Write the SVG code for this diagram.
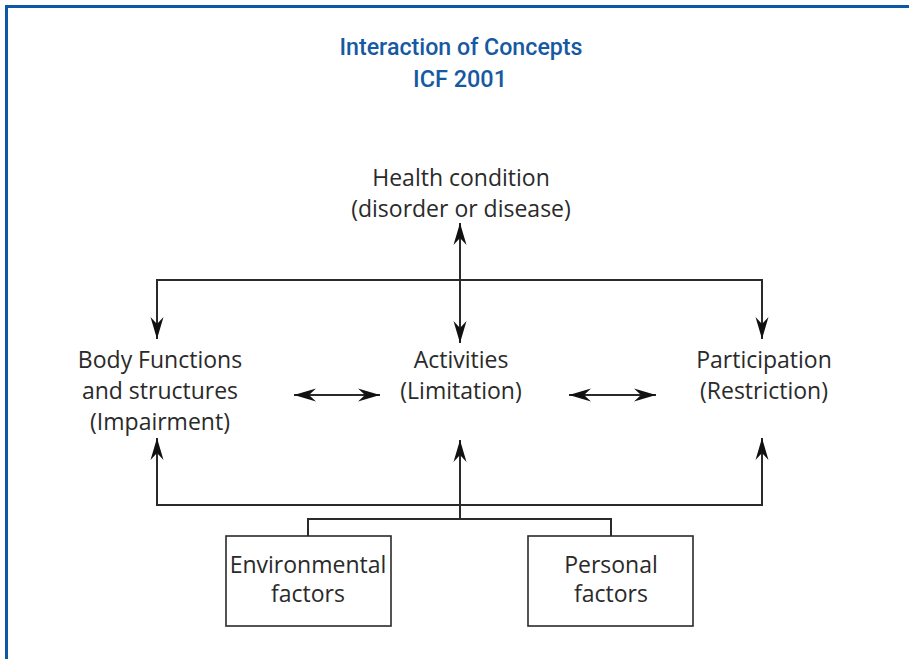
<svg xmlns="http://www.w3.org/2000/svg" width="909" height="659" viewBox="0 0 909 659">
<style>
.t{font-family:"Open Sans","Liberation Sans",sans-serif;font-size:23px;fill:#2a2a2a;text-anchor:middle}
.ttl{font-family:Roboto,"Liberation Sans",sans-serif;font-weight:500;font-size:24px;fill:#1659a3;text-anchor:middle}
.ln{fill:none;stroke:#2a2a2a;stroke-width:2}
.box{fill:#fff;stroke:#2a2a2a;stroke-width:1.6}
</style>
<defs>
<marker id="ah" markerUnits="userSpaceOnUse" markerWidth="24" markerHeight="14" viewBox="-23 -7 24 14" refX="0" refY="0" orient="auto-start-reverse">
<path d="M0,0 L-22,-6.5 L-15,0 L-22,6.5 Z" fill="#111"/>
</marker>
</defs>
<rect width="909" height="659" fill="#fff"/>
<path d="M6.5,659 V6.5 H909" fill="none" stroke="#0c5aa6" stroke-width="3"/>
<g id="title">
<text class="ttl" x="461" y="55" textLength="243" lengthAdjust="spacingAndGlyphs">Interaction of Concepts</text>
<text class="ttl" x="460" y="87" textLength="94" lengthAdjust="spacingAndGlyphs">ICF 2001</text>
</g>
<g id="connectors">
<line class="ln" x1="460" y1="223" x2="460" y2="343" marker-start="url(#ah)" marker-end="url(#ah)"/>
<path class="ln" d="M157,339 V280 H762 V339" marker-start="url(#ah)" marker-end="url(#ah)"/>
<line class="ln" x1="294" y1="395" x2="380" y2="395" marker-start="url(#ah)" marker-end="url(#ah)"/>
<line class="ln" x1="569" y1="395" x2="656" y2="395" marker-start="url(#ah)" marker-end="url(#ah)"/>
<path class="ln" d="M157,438 V505 H762 V438" marker-start="url(#ah)" marker-end="url(#ah)"/>
<line class="ln" x1="460" y1="519" x2="460" y2="440" marker-end="url(#ah)"/>
<path class="ln" d="M308,536 V519 H611 V536"/>
</g>
<g id="health">
<text class="t" x="461" y="186">Health condition</text>
<text class="t" x="461" y="217">(disorder or disease)</text>
</g>
<g id="body">
<text class="t" x="160" y="368">Body Functions</text>
<text class="t" x="160" y="399">and structures</text>
<text class="t" x="160" y="430">(Impairment)</text>
</g>
<g id="activities">
<text class="t" x="461" y="368">Activities</text>
<text class="t" x="461" y="399">(Limitation)</text>
</g>
<g id="participation">
<text class="t" x="764" y="368">Participation</text>
<text class="t" x="764" y="399">(Restriction)</text>
</g>
<g id="environmental">
<rect class="box" x="226" y="536" width="165" height="90"/>
<text class="t" x="308" y="573">Environmental</text>
<text class="t" x="308" y="602">factors</text>
</g>
<g id="personal">
<rect class="box" x="528" y="536" width="165" height="90"/>
<text class="t" x="611" y="573">Personal</text>
<text class="t" x="611" y="602">factors</text>
</g>
</svg>
